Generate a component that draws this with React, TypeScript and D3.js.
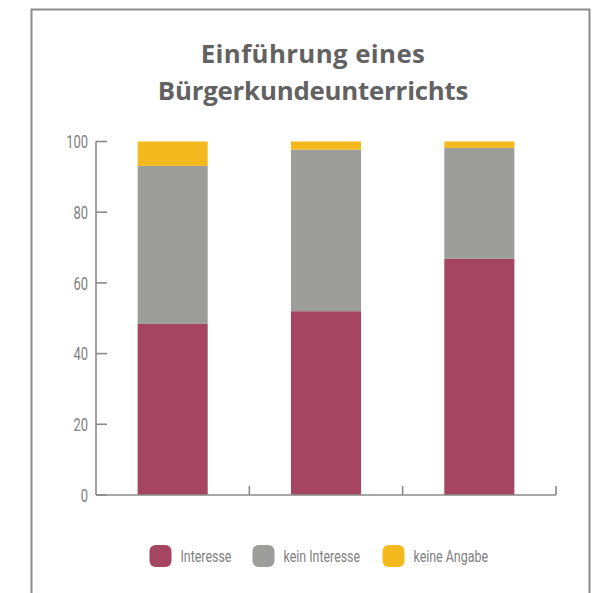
import React from "react";
import * as d3 from "d3";

const categories = ["A", "B", "C"];
const interesse = [48.4, 52.0, 66.8];
const keinInteresse = [44.7, 45.7, 31.4];
const keineAngabe = [6.9, 2.3, 1.8];
const seriesNames = ["Interesse", "kein Interesse", "keine Angabe"];
const seriesColors = ["#A54562", "#9D9D9C", "#F4B91C"];
const yTicks = [0, 20, 40, 60, 80, 100];
const titleLines = ["Einführung eines", "Bürgerkundeunterrichts"];

const W = 598;
const H = 593;
const left = 96;
const right = 556;
const top = 141.5;
const bottom = 495;

export default function App() {
  const x = d3.scaleBand<string>().domain(categories).range([left, right]).paddingInner(0.543).paddingOuter(0.2715);
  const y = d3.scaleLinear().domain([0, 100]).range([bottom, top]);
  const rows = categories.map((c, i) => ({ c, s0: interesse[i], s1: keinInteresse[i], s2: keineAngabe[i] }));
  const stacked = d3.stack<any>().keys(["s0", "s1", "s2"])(rows);
  const step = x.step();
  const axisColor = "#8a8a8a";
  const labelFont = "Roboto, sans-serif";
  const legendX = [149.5, 252.5, 382.5];

  return (
    <svg width={W} height={H} style={{ position: "absolute", left: 0, top: 0 }}>
      <rect x={31.5} y={9.5} width={558} height={620} fill="#fff" stroke="#8c8c8c" strokeWidth={2} />
      {titleLines.map((t, i) => (
        <text key={t} x={313} y={63 + i * 37} textAnchor="middle" fontFamily="'Open Sans', sans-serif" fontWeight={700} fontSize={25.8} fill="#626262" letterSpacing={i === 0 ? 0.4 : -0.2}>
          {t}
        </text>
      ))}
      {stacked.map((layer, li) => (
        <g key={li} fill={seriesColors[li]}>
          {layer.map((d, i) => (
            <rect key={i} x={x(categories[i])} width={x.bandwidth()} y={y(d[1])} height={y(d[0]) - y(d[1])} />
          ))}
        </g>
      ))}
      <line x1={left} x2={left} y1={top} y2={bottom} stroke={axisColor} strokeWidth={1.6} />
      <line x1={left} x2={right} y1={bottom} y2={bottom} stroke={axisColor} strokeWidth={1.6} />
      {yTicks.map((t) => (
        <g key={t}>
          <line x1={left} x2={left + 11} y1={y(t)} y2={y(t)} stroke={axisColor} strokeWidth={1.6} />
          <text transform={`translate(${left - 8},${y(t)}) scale(0.7,1)`} dy="0.36em" textAnchor="end" fontFamily={labelFont} fontWeight={400} fontSize={18.5} fill="#7f7f7f">
            {t}
          </text>
        </g>
      ))}
      {categories.map((c) => (
        <line key={c} x1={(x(c) as number) - step * 0.2715 + step} x2={(x(c) as number) - step * 0.2715 + step} y1={bottom} y2={bottom - 9} stroke={axisColor} strokeWidth={1.6} />
      ))}
      {seriesNames.map((n, i) => (
        <g key={n}>
          <rect x={legendX[i]} y={545} width={22} height={22} rx={6} fill={seriesColors[i]} />
          <text transform={`translate(${legendX[i] + 31},${556}) scale(0.73,1)`} dy="0.36em" fontFamily={labelFont} fontWeight={400} fontSize={17} fill="#7f7f7f">
            {n}
          </text>
        </g>
      ))}
    </svg>
  );
}
